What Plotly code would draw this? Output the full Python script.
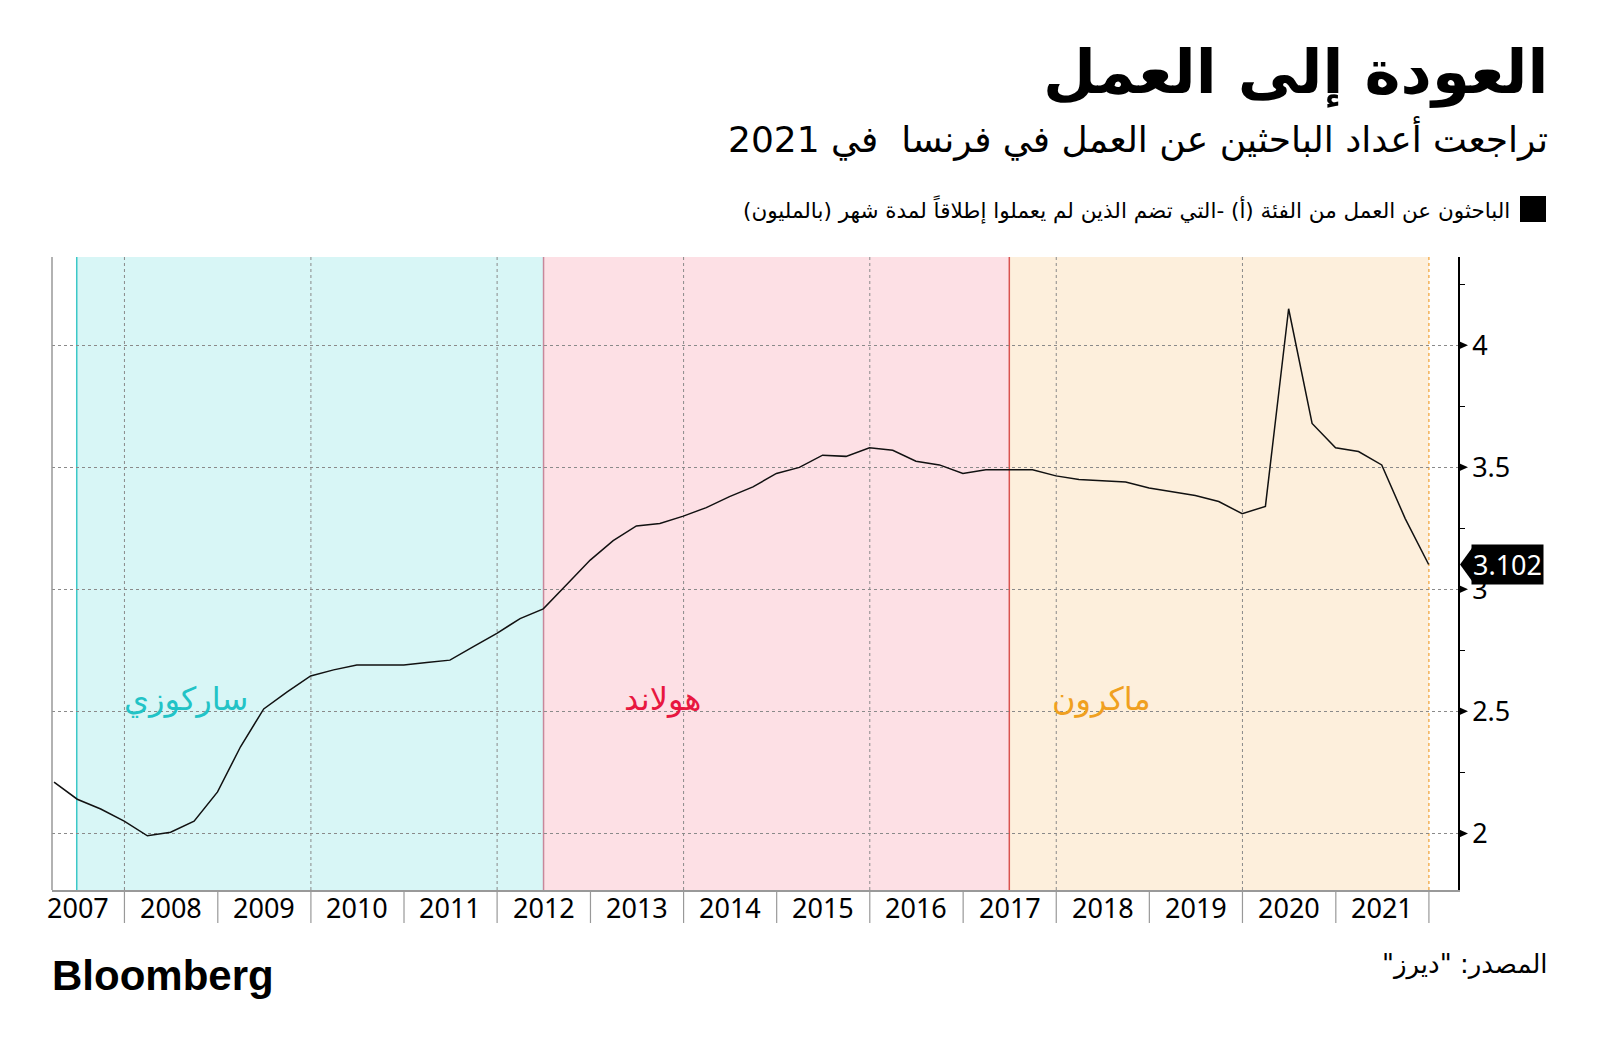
import plotly.graph_objects as go
import pandas as pd

# ---- data ----
quarter_ends = pd.date_range("2007-03-31", "2021-12-31", freq="QE")
jobseekers_m = [
    2.21, 2.14, 2.10, 2.05,
    1.99, 2.005, 2.05, 2.17,
    2.355, 2.51, 2.58, 2.645,
    2.67, 2.69, 2.69, 2.69,
    2.70, 2.71, 2.765, 2.82,
    2.88, 2.92, 3.02, 3.12,
    3.20, 3.26, 3.27, 3.30,
    3.335, 3.38, 3.42, 3.475,
    3.50, 3.55, 3.545, 3.58,
    3.57, 3.525, 3.51, 3.475,
    3.49, 3.49, 3.49, 3.465,
    3.45, 3.445, 3.44, 3.415,
    3.40, 3.385, 3.36, 3.31,
    3.34, 4.15, 3.68, 3.58,
    3.565, 3.51, 3.29, 3.102,
]
years = list(range(2007, 2022))
y_ticks = [2, 2.5, 3, 3.5, 4]

presidents = ["ساركوزي", "هولاند", "ماكرون"]
period_starts = ["2007-06-28", "2012-07-01", "2017-07-01"]
period_ends = ["2012-07-01", "2017-07-01", "2022-01-01"]
period_label_x = ["2008-08-28", "2013-10-12", "2018-06-28"]
fill_colors = ["#d8f6f6", "#fde0e5", "#fdefdc"]
edge_colors = ["#3cc8c8", "#c8879a", "#d9534f"]
label_colors = ["#22c3c6", "#e8173f", "#f0a020"]

title = "العودة إلى العمل"
subtitle = "تراجعت أعداد الباحثين عن العمل في فرنسا  في 2021"
legend_text = "الباحثون عن العمل من الفئة (أ) -التي تضم الذين لم يعملوا إطلاقاً لمدة شهر (بالمليون)"
source = "المصدر: \"ديرز\""

RLM = "\u200f"
def rtl(s):
    return RLM + s + RLM

# ---- geometry (page pixels; the page body adds an 8px offset) ----
OFF = 8
FIG_W, FIG_H = 1600 - OFF, 1053 - OFF
L, R, T, B = 52, 1458, 257, 890
W, H = R - L, B - T
def px(x):
    return (x - L) / W
def py(y):
    return (B - y) / H

FONT = "Noto Sans, DejaVu Sans, sans-serif"
AR = "DejaVu Sans, sans-serif"
RIGHT_EDGE = 1550

fig = go.Figure()
fig.add_trace(go.Scatter(
    x=quarter_ends, y=jobseekers_m, mode="lines",
    line=dict(color="#111111", width=1.5), hoverinfo="x+y", showlegend=False,
))

shapes = []
for s, e, fc in zip(period_starts, period_ends, fill_colors):
    shapes.append(dict(type="rect", xref="x", yref="paper", x0=s, x1=e, y0=0, y1=1,
                       fillcolor=fc, line=dict(width=0), layer="below"))
for yr in years[1:]:
    if yr % 2 == 0:
        shapes.append(dict(type="line", xref="x", yref="paper", x0=f"{yr}-01-01", x1=f"{yr}-01-01",
                           y0=0, y1=1, line=dict(color="#8a8a8a", width=1, dash="dot"), layer="below"))
for s, ec in zip(period_starts, edge_colors):
    shapes.append(dict(type="line", xref="x", yref="paper", x0=s, x1=s, y0=0, y1=1,
                       line=dict(color=ec, width=1.5), layer="below"))
shapes.append(dict(type="line", xref="x", yref="paper", x0=period_ends[-1], x1=period_ends[-1],
                   y0=0, y1=1, line=dict(color="#f0a030", width=1.2, dash="dot"), layer="below"))
# year separator ticks below the axis
for yr in years[1:] + [years[-1] + 1]:
    shapes.append(dict(type="line", xref="x", yref="paper", x0=f"{yr}-01-01", x1=f"{yr}-01-01",
                       y0=0, y1=-33 / H, line=dict(color="#999999", width=1.2)))
# left axis line
shapes.append(dict(type="line", xref="paper", yref="paper", x0=0, x1=0, y0=0, y1=1,
                   line=dict(color="#999999", width=1.5)))
# triangle markers at major y ticks
dy = 4.5 / 244
for v in y_ticks:
    shapes.append(dict(type="path", xref="paper", yref="y",
                       path=f"M {px(R)},{v + dy} L {px(R + 10)},{v} L {px(R)},{v - dy} Z",
                       fillcolor="black", line=dict(width=0)))
# last value pointer
last = jobseekers_m[-1]
dyl = 16.5 / 244
shapes.append(dict(type="path", xref="paper", yref="y",
                   path=f"M {px(1460)},{last} L {px(1472)},{last + dyl} L {px(1472)},{last - dyl} Z",
                   fillcolor="black", line=dict(width=0)))
# legend square
shapes.append(dict(type="rect", xref="paper", yref="paper", x0=px(1520), x1=px(1546),
                   y0=py(222), y1=py(196), fillcolor="black", line=dict(width=0)))

annotations = []
# year labels centred in each year
for yr in years:
    annotations.append(dict(x=f"{yr}-07-02", y=py(907), xref="x", yref="paper", text=str(yr),
                            showarrow=False, xanchor="center", yanchor="middle",
                            font=dict(family=FONT, size=27, color="black")))
for name, xl, lc in zip(presidents, period_label_x, label_colors):
    annotations.append(dict(x=xl, y=2.55, xref="x", yref="y", text=rtl(name), showarrow=False,
                            font=dict(family=AR, size=32, color=lc), xanchor="center", yanchor="middle"))
annotations.append(dict(x=px(1471), y=last, xref="paper", yref="y", text=f"{last:.3f}",
                        showarrow=False, xanchor="left", yanchor="middle", bgcolor="black",
                        font=dict(family=FONT, size=27, color="white"), borderpad=1))
annotations.append(dict(x=px(RIGHT_EDGE), y=py(72), xref="paper", yref="paper", text=f"<b>{rtl(title)}</b>",
                        showarrow=False, xanchor="right", yanchor="middle",
                        font=dict(family=AR, size=61, color="black")))
annotations.append(dict(x=px(RIGHT_EDGE), y=py(139), xref="paper", yref="paper", text=rtl(subtitle),
                        showarrow=False, xanchor="right", yanchor="middle",
                        font=dict(family=AR, size=36, color="black")))
annotations.append(dict(x=px(1512), y=py(209), xref="paper", yref="paper", text=rtl(legend_text),
                        showarrow=False, xanchor="right", yanchor="middle",
                        font=dict(family=AR, size=21.5, color="black")))
annotations.append(dict(x=px(50), y=py(975), xref="paper", yref="paper", text="<b>Bloomberg</b>",
                        showarrow=False, xanchor="left", yanchor="middle",
                        font=dict(family="Liberation Sans, Arial, sans-serif", size=42, color="black")))
annotations.append(dict(x=px(RIGHT_EDGE), y=py(964), xref="paper", yref="paper", text=rtl(source),
                        showarrow=False, xanchor="right", yanchor="middle",
                        font=dict(family=AR, size=26, color="black")))

fig.update_layout(
    width=FIG_W, height=FIG_H,
    margin=dict(l=L - OFF, r=FIG_W - (R - OFF), t=T - OFF, b=FIG_H - (B - OFF), pad=0),
    paper_bgcolor="white", plot_bgcolor="white",
    showlegend=False,
    shapes=shapes, annotations=annotations,
    font=dict(family=FONT, color="black"),
    xaxis=dict(
        type="date", range=["2007-03-23", "2022-04-25"],
        showticklabels=False, ticks="", showgrid=False, zeroline=False,
        showline=True, linecolor="#999999", linewidth=1.5,
    ),
    yaxis=dict(
        side="right", range=[1.768, 4.362],
        tickvals=y_ticks, ticktext=[f"{v:g}" for v in y_ticks],
        ticks="", showgrid=True, gridcolor="#8a8a8a", griddash="dot", gridwidth=1,
        zeroline=False, showline=True, linecolor="black", linewidth=1.5,
        tickfont=dict(family=FONT, size=27, color="black"),
        ticklabelstandoff=7,
        minor=dict(ticks="outside", ticklen=5, tickcolor="black", dtick=0.25, tick0=2, showgrid=False),
    ),
)

fig.write_html("out.html")
